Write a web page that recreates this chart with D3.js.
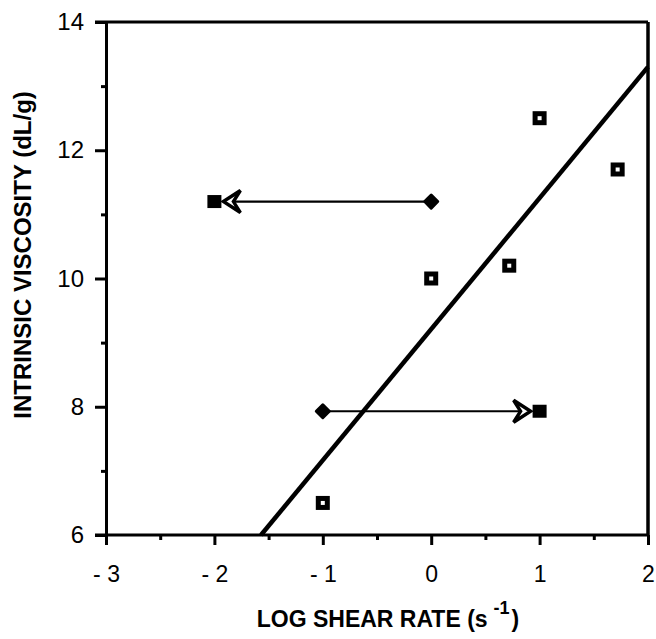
<!DOCTYPE html>
<html><head><meta charset="utf-8">
<script src="https://cdn.jsdelivr.net/npm/d3@7"></script>
<style>
html,body{margin:0;padding:0;background:#fff;}
text{font-family:"Liberation Sans",Arial,Helvetica,sans-serif;fill:#000;}
</style></head>
<body><svg id="chart" width="656" height="639"></svg>
<script>
// ---- data ----
const squareX = [-1, 0, 0.72, 1, 1.72];
const squareY = [6.5, 10.0, 10.2, 12.5, 11.7];
const fitX = [-1.57, 2];
const fitY = [6.0, 13.3];
const arrowStartX = [0, -1];
const arrowStartY = [11.2, 7.93];
const arrowEndX = [-2, 1];
const arrowEndY = [11.2, 7.93];
const xTicks = [-3, -2, -1, 0, 1, 2];
const xTickLabels = ["- 3", "- 2", "- 1", "0", "1", "2"];
const xMinorTicks = [-2.5, -1.5, -0.5, 0.5, 1.5];
const yTicks = [6, 8, 10, 12, 14];
const yTickLabels = ["6", "8", "10", "12", "14"];
const yMinorTicks = [7, 9, 11, 13];
const xTitle = "LOG SHEAR RATE (s";
const xTitleSup = "-1";
const yTitle = "INTRINSIC VISCOSITY (dL/g)";

// ---- layout ----
const svg = d3.select("#chart");
const L = 106, R = 648, T = 22, B = 535;
const x = d3.scaleLinear().domain([-3, 2]).range([L, R]);
const y = d3.scaleLinear().domain([6, 14]).range([B, T]);
const AW = 3;

// frame: top and right lines
svg.append("line").attr("x1", L - 11).attr("x2", R).attr("y1", T).attr("y2", T)
  .attr("stroke", "#000").attr("stroke-width", AW);
svg.append("line").attr("x1", R).attr("x2", R).attr("y1", T).attr("y2", B)
  .attr("stroke", "#000").attr("stroke-width", AW + 0.5);

// x axis
const xAxis = d3.axisBottom(x).tickValues(xTicks)
  .tickFormat((d, i) => xTickLabels[i]).tickSizeInner(10).tickSizeOuter(0).tickPadding(21);
const gx = svg.append("g").attr("transform", `translate(0,${B})`).call(xAxis);
gx.select(".domain").attr("stroke-width", AW).attr("d", `M${L - 11},0H${R}`);
gx.selectAll(".tick line").attr("stroke-width", AW);
gx.selectAll(".tick text").style("font-size", "23px");
const xMinor = d3.axisBottom(x).tickValues(xMinorTicks).tickFormat("").tickSize(5).tickSizeOuter(0);
const gxm = svg.append("g").attr("transform", `translate(0,${B})`).call(xMinor);
gxm.select(".domain").remove();
gxm.selectAll(".tick line").attr("stroke-width", AW);

// y axis
const yAxis = d3.axisLeft(y).tickValues(yTicks)
  .tickFormat((d, i) => yTickLabels[i]).tickSizeInner(11).tickSizeOuter(0).tickPadding(11);
const gy = svg.append("g").attr("transform", `translate(${L},0)`).call(yAxis);
gy.select(".domain").attr("stroke-width", AW);
gy.selectAll(".tick line").attr("stroke-width", AW);
gy.selectAll(".tick text").style("font-size", "24px");
const yMinor = d3.axisLeft(y).tickValues(yMinorTicks).tickFormat("").tickSize(5).tickSizeOuter(0);
const gym = svg.append("g").attr("transform", `translate(${L},0)`).call(yMinor);
gym.select(".domain").remove();
gym.selectAll(".tick line").attr("stroke-width", AW);
svg.selectAll(".tick text").style("font-family", '"Liberation Sans",Arial,sans-serif');

// regression line
svg.append("line")
  .attr("x1", x(fitX[0])).attr("y1", y(fitY[0]))
  .attr("x2", x(fitX[1])).attr("y2", y(fitY[1]))
  .attr("stroke", "#000").attr("stroke-width", 4.5);

// arrows
arrowStartX.forEach((sx, i) => {
  const x0 = x(sx), y0 = y(arrowStartY[i]);
  const x1 = x(arrowEndX[i]), y1 = y(arrowEndY[i]);
  const dir = Math.sign(x1 - x0);
  const tip = x1 - dir * 9;
  svg.append("line").attr("x1", x0).attr("y1", y0).attr("x2", tip - dir * 8).attr("y2", y1)
    .attr("stroke", "#000").attr("stroke-width", 2.2);
  // end filled square
  svg.append("rect").attr("x", x1 - 7).attr("y", y1 - 6.5).attr("width", 14).attr("height", 13)
    .attr("fill", "#000");
  // arrowhead
  const p = d3.path();
  p.moveTo(tip, y1);
  p.lineTo(tip - dir * 17, y1 - 11);
  p.lineTo(tip - dir * 10, y1);
  p.lineTo(tip - dir * 17, y1 + 11);
  p.closePath();
  svg.append("path").attr("d", p.toString()).attr("fill", "#fff")
    .attr("stroke", "#000").attr("stroke-width", 3.4).attr("stroke-linejoin", "miter");
  // start marker (filled rounded diamond)
  svg.append("path").attr("transform", `translate(${x0},${y0}) rotate(45)`)
    .attr("d", d3.symbol().type(d3.symbolSquare).size(85)())
    .attr("fill", "#000").attr("stroke", "#000").attr("stroke-width", 3).attr("stroke-linejoin", "round");
});

// open square data points
const sq = svg.append("g");
squareX.forEach((sx, i) => {
  const cx = x(sx), cy = y(squareY[i]);
  sq.append("rect").attr("x", cx - 7).attr("y", cy - 7).attr("width", 14).attr("height", 14).attr("fill", "#000");
  sq.append("rect").attr("x", cx - 2).attr("y", cy - 2).attr("width", 4).attr("height", 4).attr("fill", "#fff");
});

// titles
const xt = svg.append("text").attr("x", 388).attr("y", 627).attr("text-anchor", "middle")
  .style("font-size", "23px").style("font-weight", "bold");
xt.append("tspan").text(xTitle);
xt.append("tspan").attr("dx", 6).attr("dy", -13).style("font-size", "18px").text(xTitleSup);
xt.append("tspan").attr("dx", 2).attr("dy", 13).text(")");

svg.append("text").attr("transform", "translate(31,255) rotate(-90)").attr("text-anchor", "middle")
  .style("font-size", "24px").style("font-weight", "bold").text(yTitle);
</script></body></html>
